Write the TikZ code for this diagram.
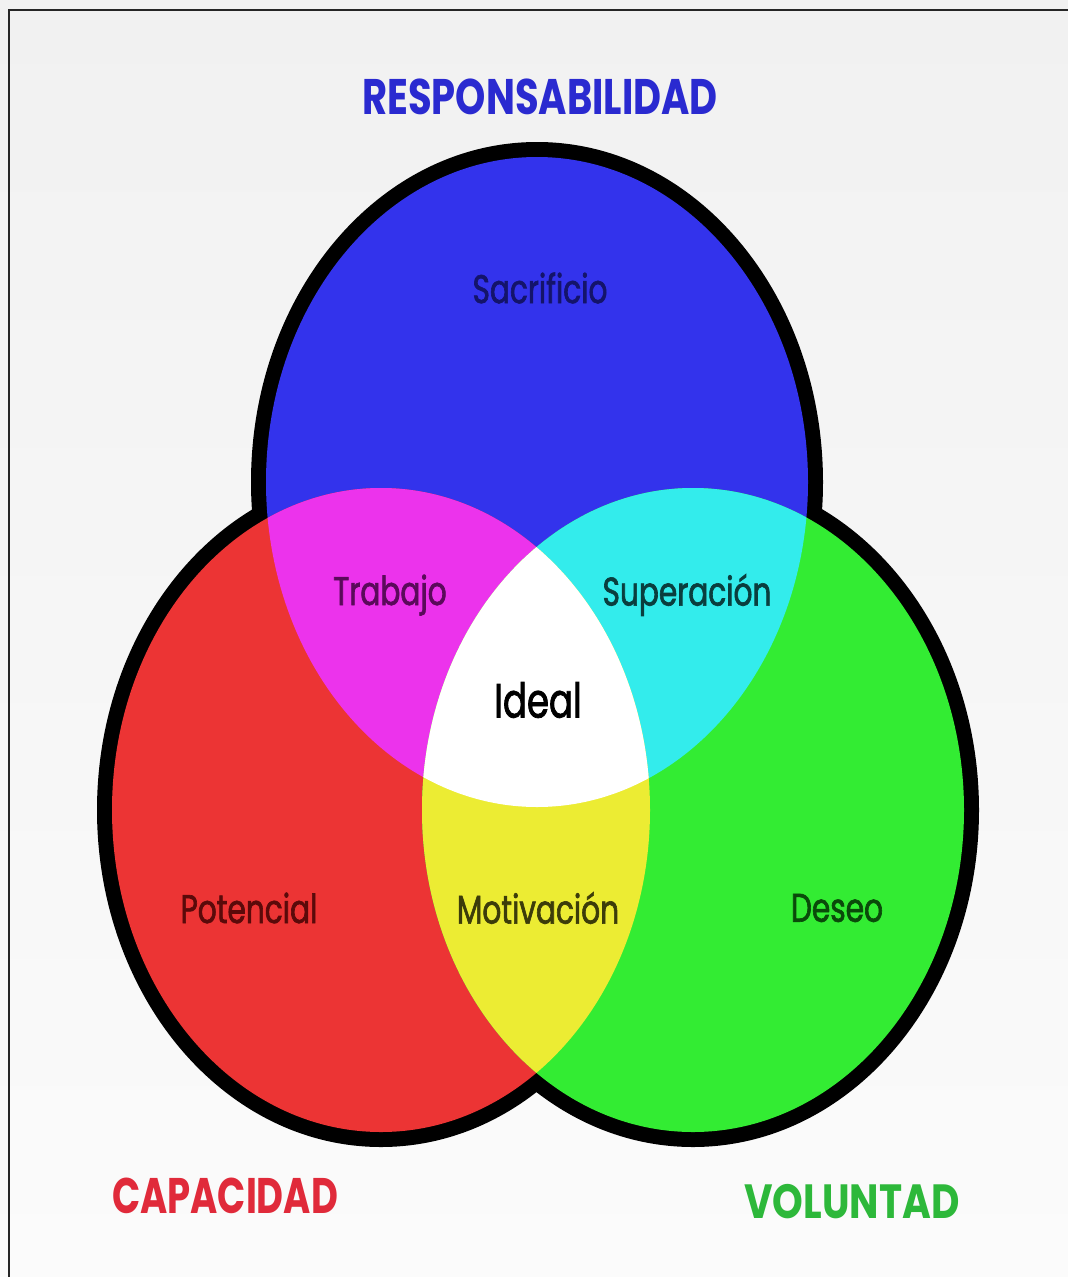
\documentclass[tikz,border=0pt]{standalone}
\usepackage{fontspec}
\newfontfamily\lblfont[FakeStretch=0.74,FakeBold=1.6]{Poppins}
\newfontfamily\ttlfont[FakeStretch=0.74]{Poppins}
\definecolor{cblue}{HTML}{3333EC}
\definecolor{cred}{HTML}{EC3434}
\definecolor{cgreen}{HTML}{33EC33}
\definecolor{cmag}{HTML}{EC33EC}
\definecolor{ccyan}{HTML}{33ECEC}
\definecolor{cyel}{HTML}{ECEC33}
\definecolor{tblue}{HTML}{2A2AD0}
\definecolor{tred}{HTML}{E02A3A}
\definecolor{tgreen}{HTML}{2DB83A}
\definecolor{bgtop}{HTML}{F1F1F1}
\definecolor{bgbot}{HTML}{FBFBFB}
\definecolor{tsac}{HTML}{14146A}
\definecolor{ttra}{HTML}{5A0A5A}
\definecolor{tsup}{HTML}{0A3E3E}
\definecolor{tpot}{HTML}{5A0A0A}
\definecolor{tmot}{HTML}{3C3C0A}
\definecolor{tdes}{HTML}{0A4A0A}
\tikzset{
  region/.style={font=\lblfont\fontsize{40}{44}\selectfont, inner sep=0pt},
  title/.style={font=\ttlfont\bfseries\fontsize{50}{54}\selectfont, inner sep=0pt},
  outline/.style={fill=black, draw=black, line width=30pt},
}
\begin{document}
\begin{tikzpicture}[x=1pt,y=-1pt]
\useasboundingbox (0,0) rectangle (1068,1277);
% background
\shade[top color=bgtop, bottom color=bgbot] (0,0) rectangle (1068,1277);
% frame (top and left edges visible)
\draw[line width=2.2pt, black!85] (9,1277) -- (9,10) -- (1068,10);
% outline
\path[outline] (537,482) ellipse [x radius=271, y radius=325];
\path[outline] (381,810) ellipse [x radius=269, y radius=322];
\path[outline] (693,810) ellipse [x radius=271, y radius=322];
% base fills
\fill[cblue] (537,482) ellipse [x radius=271, y radius=325];
\fill[cred] (381,810) ellipse [x radius=269, y radius=322];
\fill[cgreen] (693,810) ellipse [x radius=271, y radius=322];
% pairwise intersections
\begin{scope}
  \clip (537,482) ellipse [x radius=271, y radius=325];
  \fill[cmag] (381,810) ellipse [x radius=269, y radius=322];
  \fill[ccyan] (693,810) ellipse [x radius=271, y radius=322];
\end{scope}
\begin{scope}
  \clip (381,810) ellipse [x radius=269, y radius=322];
  \fill[cyel] (693,810) ellipse [x radius=271, y radius=322];
  \clip (693,810) ellipse [x radius=271, y radius=322];
  \fill[white] (537,482) ellipse [x radius=271, y radius=325];
\end{scope}
% region labels
\node[region, text=tsac] (sac) at (540,288) {Sacrificio};
\node[region, text=ttra] (tra) at (390,595) {Trabajo};
\node[region, text=tsup] (sup) at (687,595) {Superación};
\node[region, text=black, font=\lblfont\fontsize{48}{52}\selectfont] (ide) at (538,700) {Ideal};
\node[region, text=tpot] (pot) at (249,908) {Potencial};
\node[region, text=tmot] (mot) at (538,908) {Motivación};
\node[region, text=tdes] (des) at (837,908) {Deseo};
% titles
\node[title, text=tblue, font=\ttlfont\bfseries\fontsize{50}{54}\selectfont] (resp) at (540,97) {\scalebox{1.04}[1]{RESPONSABILIDAD}};
\node[title, text=tred, font=\ttlfont\bfseries\fontsize{50}{54}\selectfont] (cap) at (225,1196) {CAPACIDAD};
\node[title, text=tgreen, font=\ttlfont\bfseries\fontsize{48}{52}\selectfont] (vol) at (852,1202) {\scalebox{1.1}[1]{VOLUNTAD}};
\end{tikzpicture}
\end{document}
